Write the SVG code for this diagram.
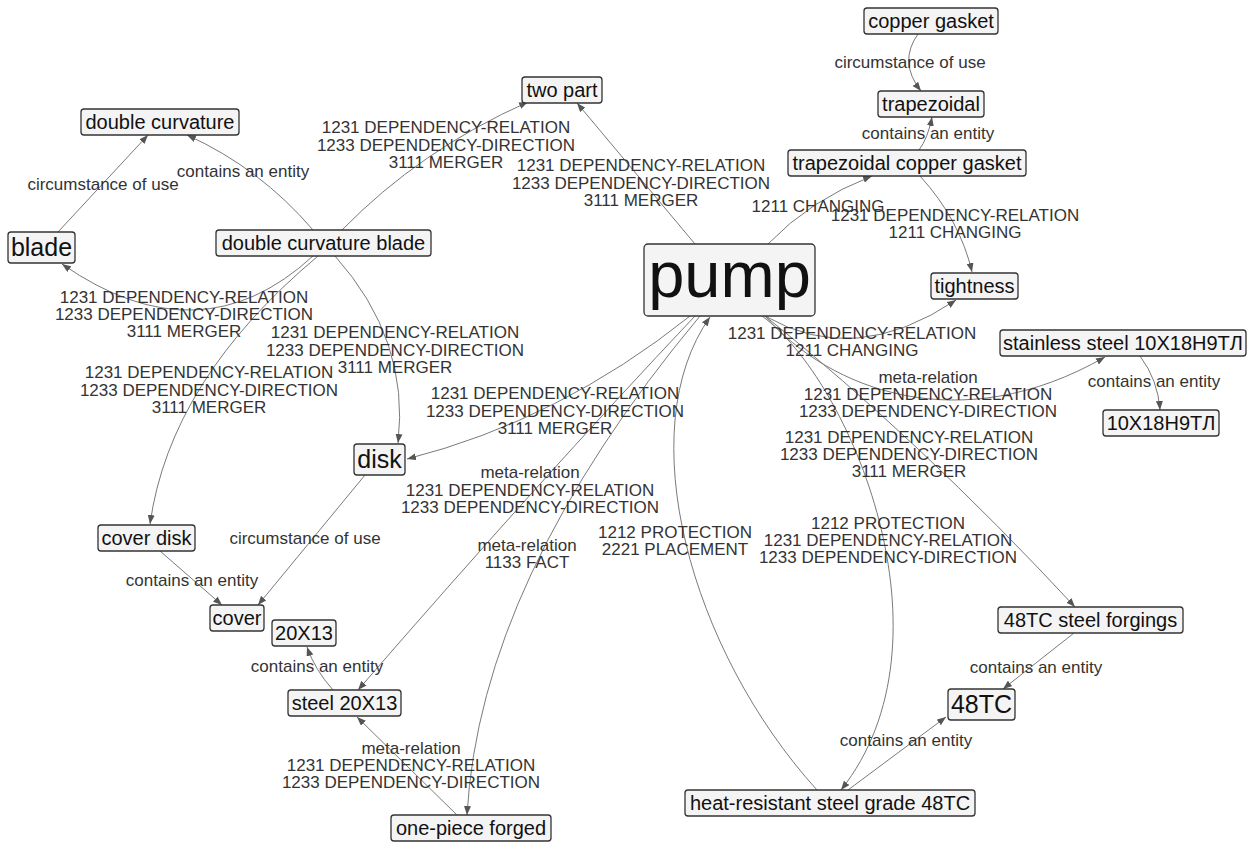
<svg xmlns="http://www.w3.org/2000/svg" width="1249" height="842" viewBox="0 0 1249 842">
  <defs>
    <marker id="arrow" viewBox="0 0 9 7" refX="9" refY="3.5" markerWidth="9" markerHeight="7" markerUnits="userSpaceOnUse" orient="auto">
      <path d="M0,0 L9,3.5 L0,7 z" fill="#555"/>
    </marker>
    <style>
      .node rect { fill: #f4f4f4; stroke: #333; stroke-width: 1.3; }
      .node text { font-family: "Liberation Sans", Arial, sans-serif; font-size: 20px; fill: #111; text-anchor: middle; }
      .node text.big { font-size: 25px; }
      .node text.huge { font-size: 65px; }
      .edges path { fill: none; stroke: #7a7a7a; stroke-width: 1; marker-end: url(#arrow); }
      .labels text { font-family: "Liberation Sans", Arial, sans-serif; font-size: 17px; fill: #333; text-anchor: middle; }
    </style>
  </defs>
  <rect width="1249" height="842" fill="#fff"/>

  <!-- connectors -->
  <g id="connectors" class="edges">
    <path d="M918,34 Q898,62 921,91"/>
    <path d="M919,150 Q928,138 932,117"/>
    <path d="M313,230 Q260,168 187,135"/>
    <path d="M58,232 L148,135"/>
    <path d="M342,230 Q420,150 528,102"/>
    <path d="M695,244 L577,103"/>
    <path d="M768,244 Q810,200 872,176"/>
    <path d="M920,176 Q960,220 972,272"/>
    <path d="M765,316 Q855,368 956,300"/>
    <path d="M765,316 C830,390 960,440 1105,357"/>
    <path d="M765,316 Q920,440 1075,607"/>
    <path d="M762,316 C850,380 960,640 841,790"/>
    <path d="M817,790 C690,650 630,430 710,317"/>
    <path d="M690,316 Q560,420 407,459"/>
    <path d="M695,316 Q540,480 358,690"/>
    <path d="M700,316 Q480,580 467,815"/>
    <path d="M313,256 Q200,360 62,264"/>
    <path d="M335,256 Q410,340 398,443"/>
    <path d="M318,256 Q170,380 150,524"/>
    <path d="M365,475 L258,605"/>
    <path d="M160,551 L222,605"/>
    <path d="M333,690 Q315,670 307,647"/>
    <path d="M457,815 L357,717"/>
    <path d="M1140,356 Q1158,380 1160,410"/>
    <path d="M1074,633 L1003,689"/>
    <path d="M848,790 L946,717"/>
  </g>

  <!-- connector labels -->
  <g id="connector-labels" class="labels">
    <text x="910" y="68">circumstance of use</text>
    <text x="928" y="139">contains an entity</text>
    <text x="243" y="177">contains an entity</text>
    <text x="103" y="190">circumstance of use</text>
    <text x="446" y="133">1231 DEPENDENCY-RELATION<tspan x="446" dy="17.5">1233 DEPENDENCY-DIRECTION</tspan><tspan x="446" dy="17.5">3111 MERGER</tspan></text>
    <text x="641" y="171">1231 DEPENDENCY-RELATION<tspan x="641" dy="17.5">1233 DEPENDENCY-DIRECTION</tspan><tspan x="641" dy="17.5">3111 MERGER</tspan></text>
    <text x="818" y="212">1211 CHANGING</text>
    <text x="955" y="221">1231 DEPENDENCY-RELATION<tspan x="955" dy="17">1211 CHANGING</tspan></text>
    <text x="852" y="339">1231 DEPENDENCY-RELATION<tspan x="852" dy="17">1211 CHANGING</tspan></text>
    <text x="928" y="383">meta-relation<tspan x="928" dy="17">1231 DEPENDENCY-RELATION</tspan><tspan x="928" dy="17">1233 DEPENDENCY-DIRECTION</tspan></text>
    <text x="909" y="443">1231 DEPENDENCY-RELATION<tspan x="909" dy="17">1233 DEPENDENCY-DIRECTION</tspan><tspan x="909" dy="17">3111 MERGER</tspan></text>
    <text x="888" y="529">1212 PROTECTION<tspan x="888" dy="17">1231 DEPENDENCY-RELATION</tspan><tspan x="888" dy="17">1233 DEPENDENCY-DIRECTION</tspan></text>
    <text x="675" y="538">1212 PROTECTION<tspan x="675" dy="17">2221 PLACEMENT</tspan></text>
    <text x="555" y="399">1231 DEPENDENCY-RELATION<tspan x="555" dy="17.5">1233 DEPENDENCY-DIRECTION</tspan><tspan x="555" dy="17.5">3111 MERGER</tspan></text>
    <text x="530" y="478">meta-relation<tspan x="530" dy="17.5">1231 DEPENDENCY-RELATION</tspan><tspan x="530" dy="17.5">1233 DEPENDENCY-DIRECTION</tspan></text>
    <text x="527" y="551">meta-relation<tspan x="527" dy="17">1133 FACT</tspan></text>
    <text x="184" y="303">1231 DEPENDENCY-RELATION<tspan x="184" dy="17">1233 DEPENDENCY-DIRECTION</tspan><tspan x="184" dy="17">3111 MERGER</tspan></text>
    <text x="395" y="338">1231 DEPENDENCY-RELATION<tspan x="395" dy="17.5">1233 DEPENDENCY-DIRECTION</tspan><tspan x="395" dy="17.5">3111 MERGER</tspan></text>
    <text x="209" y="378">1231 DEPENDENCY-RELATION<tspan x="209" dy="17.5">1233 DEPENDENCY-DIRECTION</tspan><tspan x="209" dy="17.5">3111 MERGER</tspan></text>
    <text x="1154" y="387">contains an entity</text>
    <text x="305" y="544">circumstance of use</text>
    <text x="192" y="586">contains an entity</text>
    <text x="317" y="672">contains an entity</text>
    <text x="411" y="754">meta-relation<tspan x="411" dy="17">1231 DEPENDENCY-RELATION</tspan><tspan x="411" dy="17">1233 DEPENDENCY-DIRECTION</tspan></text>
    <text x="1036" y="673">contains an entity</text>
    <text x="906" y="746">contains an entity</text>
  </g>

  <!-- nodes -->
  <g id="node-copper-gasket" class="node"><rect x="864" y="8" width="134" height="26" rx="3"/><text x="931" y="28">copper gasket</text></g>
  <g id="node-trapezoidal" class="node"><rect x="878" y="91" width="106" height="26" rx="3"/><text x="931" y="111">trapezoidal</text></g>
  <g id="node-trapezoidal-copper-gasket" class="node"><rect x="788" y="150" width="238" height="26" rx="3"/><text x="907" y="170">trapezoidal copper gasket</text></g>
  <g id="node-tightness" class="node"><rect x="931" y="273" width="87" height="26" rx="3"/><text x="974.5" y="293">tightness</text></g>
  <g id="node-pump" class="node"><rect x="644" y="244" width="171" height="72" rx="4"/><text class="huge" x="729.5" y="297">pump</text></g>
  <g id="node-two-part" class="node"><rect x="522" y="77" width="80" height="26" rx="3"/><text x="562" y="97">two part</text></g>
  <g id="node-double-curvature" class="node"><rect x="81" y="109" width="158" height="26" rx="3"/><text x="160" y="129">double curvature</text></g>
  <g id="node-blade" class="node"><rect x="8" y="232" width="67" height="31" rx="3"/><text class="big" x="41.5" y="256">blade</text></g>
  <g id="node-double-curvature-blade" class="node"><rect x="216" y="230" width="215" height="26" rx="3"/><text x="323.5" y="250">double curvature blade</text></g>
  <g id="node-disk" class="node"><rect x="354" y="444" width="51" height="31" rx="3"/><text class="big" x="379.5" y="468">disk</text></g>
  <g id="node-stainless-steel" class="node"><rect x="1000" y="330" width="246" height="26" rx="3"/><text x="1123" y="350">stainless steel 10X18H9TЛ</text></g>
  <g id="node-10X18H9TL" class="node"><rect x="1103" y="410" width="116" height="26" rx="3"/><text x="1161" y="430">10X18H9TЛ</text></g>
  <g id="node-cover-disk" class="node"><rect x="98" y="525" width="97" height="26" rx="3"/><text x="146.5" y="545">cover disk</text></g>
  <g id="node-cover" class="node"><rect x="210" y="605" width="54" height="26" rx="3"/><text x="237" y="625">cover</text></g>
  <g id="node-20X13" class="node"><rect x="272" y="620" width="64" height="26" rx="3"/><text x="304" y="640">20X13</text></g>
  <g id="node-steel-20X13" class="node"><rect x="288" y="690" width="113" height="26" rx="3"/><text x="344.5" y="710">steel 20X13</text></g>
  <g id="node-one-piece-forged" class="node"><rect x="391" y="815" width="160" height="26" rx="3"/><text x="471" y="835">one-piece forged</text></g>
  <g id="node-48TC-steel-forgings" class="node"><rect x="998" y="607" width="185" height="26" rx="3"/><text x="1090.5" y="627">48TC steel forgings</text></g>
  <g id="node-48TC" class="node"><rect x="948" y="689" width="67" height="31" rx="3"/><text class="big" x="981.5" y="713">48TC</text></g>
  <g id="node-heat-resistant-steel" class="node"><rect x="685" y="790" width="290" height="26" rx="3"/><text x="830" y="810">heat-resistant steel grade 48TC</text></g>
</svg>
